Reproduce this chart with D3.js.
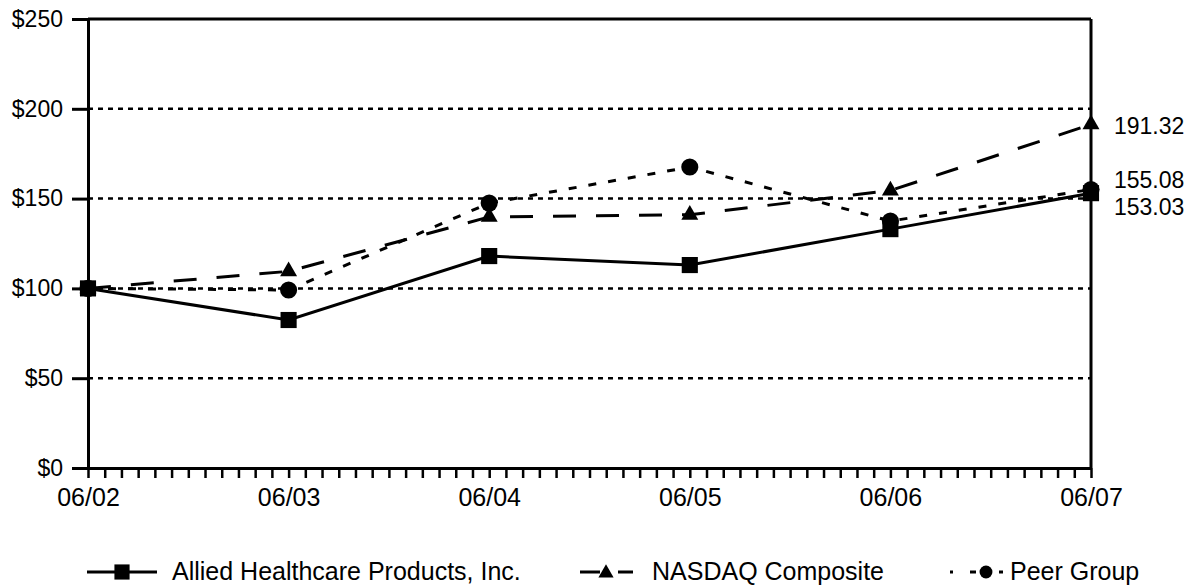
<!DOCTYPE html>
<html>
<head>
    <meta charset="utf-8">
    <title>Cumulative Total Return</title>
    <script src="https://d3js.org/d3.v7.min.js"></script>
    <style>
        body {
            margin: 0;
            background: #fff;
            font-family: 'Liberation Sans', Arial, Helvetica, sans-serif;
        }
        #chart {
            width: 1188px;
            height: 587px;
        }
    </style>
</head>
<body>
    <div id="chart"></div>
    <script>
        // data
        const periods = ["06/02", "06/03", "06/04", "06/05", "06/06", "06/07"]
        const allied = [100, 82.4, 118.0, 113.0, 133.0, 153.03]
        const nasdaq = [100, 109.5, 139.8, 141.0, 154.5, 191.32]
        const peer = [100, 99.1, 147.5, 167.6, 137.5, 155.08]
        const yTicks = [0, 50, 100, 150, 200, 250]
        const endLabels = ["191.32", "155.08", "153.03"]
        const seriesNames = ["Allied Healthcare Products, Inc.", "NASDAQ Composite", "Peer Group"]

        const w = 1188
        const h = 587
        const plot = { left: 88, right: 1091, top: 19, bottom: 468 }

        const svg = d3.select("#chart")
            .append("svg")
            .attr("width", w)
            .attr("height", h)

        const xScale = d3.scaleLinear()
            .domain([0, periods.length - 1])
            .range([plot.left, plot.right])
        const yScale = d3.scaleLinear()
            .domain([0, 250])
            .range([plot.bottom, plot.top])

        // dotted gridlines
        svg.append("g")
            .selectAll("line")
            .data(yTicks.filter(d => d > 0 && d < 250))
            .enter()
            .append("line")
            .attr("x1", plot.left)
            .attr("x2", plot.right)
            .attr("y1", d => yScale(d))
            .attr("y2", d => yScale(d))
            .attr("stroke", "#000")
            .attr("stroke-width", 2.5)
            .attr("stroke-dasharray", "5,5")

        // top and right frame
        svg.append("line")
            .attr("x1", plot.left).attr("x2", plot.right)
            .attr("y1", yScale(250)).attr("y2", yScale(250))
            .attr("stroke", "#000").attr("stroke-width", 3)
        svg.append("line")
            .attr("x1", plot.right).attr("x2", plot.right)
            .attr("y1", yScale(250)).attr("y2", yScale(0))
            .attr("stroke", "#000").attr("stroke-width", 3)

        // y axis
        const yAxis = d3.axisLeft(yScale)
            .tickValues(yTicks)
            .tickSize(16)
            .tickSizeOuter(0)
            .tickPadding(9)
            .tickFormat(d => "$" + d)
        const gy = svg.append("g")
            .attr("transform", "translate(" + plot.left + ",0)")
            .call(yAxis)

        // x axis with monthly ticks
        const monthTicks = d3.range(0, (periods.length - 1) * 12 + 1).map(m => m / 12)
        const xAxis = d3.axisBottom(xScale)
            .tickValues(monthTicks)
            .tickSize(10)
            .tickSizeOuter(0)
            .tickPadding(10)
            .tickFormat(d => Number.isInteger(d) ? periods[d] : "")
        const gx = svg.append("g")
            .attr("transform", "translate(0," + plot.bottom + ")")
            .call(xAxis)

        gy.selectAll("path, line").attr("stroke", "#000").attr("stroke-width", 3)
        gx.selectAll("path").attr("stroke", "#000").attr("stroke-width", 3)
        gx.selectAll("line").attr("stroke", "#000").attr("stroke-width", 2.5)
        gy.selectAll("text")
            .attr("fill", "#000")
            .style("font-family", "'Liberation Sans', Arial, sans-serif")
            .style("font-size", "23px")
        gx.selectAll("text")
            .attr("fill", "#000")
            .style("font-family", "'Liberation Sans', Arial, sans-serif")
            .style("font-size", "25px")

        const line = d3.line()
            .x((d, i) => xScale(i))
            .y(d => yScale(d))

        const series = [
            { values: nasdaq, dash: "23,20", symbol: d3.symbolTriangle, size: 125 },
            { values: peer, dash: "8,12", symbol: d3.symbolCircle, size: 230 },
            { values: allied, dash: null, symbol: d3.symbolSquare, size: 260 }
        ]

        series.forEach(s => {
            svg.append("path")
                .datum(s.values)
                .attr("d", line)
                .attr("fill", "none")
                .attr("stroke", "#000")
                .attr("stroke-width", 3)
                .attr("stroke-dasharray", s.dash)

            svg.append("g")
                .selectAll("path")
                .data(s.values)
                .enter()
                .append("path")
                .attr("transform", (d, i) => "translate(" + xScale(i) + "," + yScale(d) + ")")
                .attr("d", d3.symbol().type(s.symbol).size(s.size))
                .attr("fill", "#000")
        })

        // end value labels
        const endY = [126, 180, 207]
        svg.append("g")
            .selectAll("text")
            .data(endLabels)
            .enter()
            .append("text")
            .attr("x", plot.right + 23)
            .attr("y", (d, i) => endY[i])
            .attr("dy", "0.35em")
            .style("font-size", "23px")
            .text(d => d)

        // legend
        const legendY = 572
        const textY = 580
        const legend = svg.append("g")

        legend.append("line")
            .attr("x1", 87).attr("x2", 157)
            .attr("y1", legendY).attr("y2", legendY)
            .attr("stroke", "#000").attr("stroke-width", 3)
        legend.append("path")
            .attr("transform", "translate(122," + legendY + ")")
            .attr("d", d3.symbol().type(d3.symbolSquare).size(230))
        legend.append("text")
            .attr("x", 172).attr("y", textY)
            .style("font-size", "25px")
            .text(seriesNames[0])

        legend.append("line")
            .attr("x1", 580).attr("x2", 633)
            .attr("y1", legendY).attr("y2", legendY)
            .attr("stroke", "#000").attr("stroke-width", 3)
            .attr("stroke-dasharray", "20,18")
        legend.append("path")
            .attr("transform", "translate(606," + (legendY + 1) + ")")
            .attr("d", d3.symbol().type(d3.symbolTriangle).size(100))
        legend.append("text")
            .attr("x", 652).attr("y", textY)
            .style("font-size", "25px")
            .text(seriesNames[1])

        legend.append("line")
            .attr("x1", 950).attr("x2", 1006)
            .attr("y1", legendY).attr("y2", legendY)
            .attr("stroke", "#000").attr("stroke-width", 3)
            .attr("stroke-dasharray", "3,17,6,23,4")
        legend.append("path")
            .attr("transform", "translate(986," + legendY + ")")
            .attr("d", d3.symbol().type(d3.symbolCircle).size(130))
        legend.append("text")
            .attr("x", 1010).attr("y", textY)
            .style("font-size", "25px")
            .text(seriesNames[2])
    </script>
</body>
</html>
